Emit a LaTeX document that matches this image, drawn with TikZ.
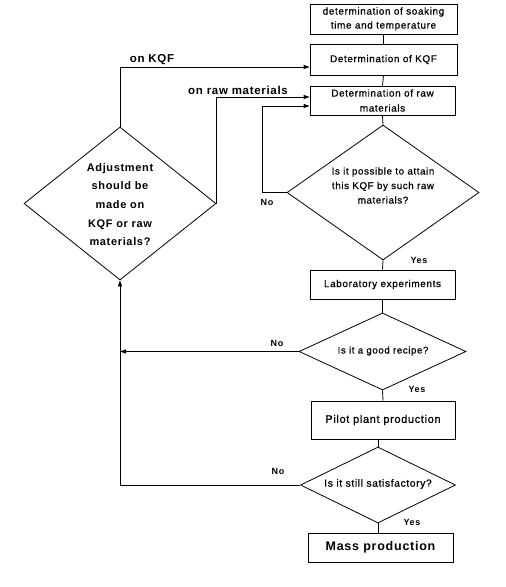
\documentclass[tikz,border=0pt]{standalone}
\usepackage{fontspec}
\setmainfont{Liberation Sans}[LetterSpace=6]
\newfontfamily\medfont{Liberation Sans}[LetterSpace=6, FakeBold=0.7]
\usetikzlibrary{shapes.geometric,arrows.meta}
\begin{document}
\begin{tikzpicture}[x=1pt,y=-1pt,
  line width=0.8pt,
  boxnode/.style={draw, rectangle, inner sep=0pt, align=center},
  dianode/.style={draw, diamond, inner sep=0pt},
  dtext/.style={align=center, inner sep=0pt},
  arr/.style={-{Triangle[length=6pt,width=4pt]}},
  lbl/.style={inner sep=0pt, font=\fontsize{11.5}{13}\selectfont\bfseries},
  yn/.style={inner sep=0pt, font=\fontsize{9}{11}\selectfont\bfseries}
]
\useasboundingbox (0,0) rectangle (506,587);
% boxes
\node[boxnode, minimum width=147pt, minimum height=30pt, font=\medfont\fontsize{10}{14}\selectfont] (b1) at (383.5,19) {determination of soaking\\time and temperature};
\node[boxnode, minimum width=147pt, minimum height=31pt, font=\medfont\fontsize{10}{14}\selectfont] (b2) at (383.5,59.5) {Determination of KQF};
\node[boxnode, minimum width=145pt, minimum height=29pt, font=\medfont\fontsize{10}{15}\selectfont] (b3) at (382.5,100.5) {Determination of raw\\materials};
\node[boxnode, minimum width=145pt, minimum height=29pt, font=\medfont\fontsize{10}{14}\selectfont] (lab) at (382.5,284.5) {Laboratory experiments};
\node[boxnode, minimum width=144pt, minimum height=38pt, font=\medfont\fontsize{11}{14}\selectfont] (pilot) at (383,420) {Pilot plant production};
\node[boxnode, minimum width=145pt, minimum height=29pt, font=\fontsize{12.5}{14}\selectfont\bfseries] (mass) at (380.5,547.5) {Mass production};
% diamonds
\node[dianode, minimum width=192pt, minimum height=153pt] (d1) at (120,203.5) {};
\node[dtext, font=\fontsize{11}{18.7}\selectfont\bfseries] (t1) at (120,204.5) {Adjustment\\should be\\made on\\KQF or raw\\materials?};
\node[dianode, minimum width=192pt, minimum height=135pt] (d2) at (383,192.5) {};
\node[dtext, font=\medfont\fontsize{9.8}{14.5}\selectfont] (t2) at (383,185.5) {Is it possible to attain\\this KQF by such raw\\materials?};
\node[dianode, minimum width=167pt, minimum height=77pt] (d3) at (382.5,351.5) {};
\node[dtext, font=\medfont\fontsize{9.7}{12}\selectfont] (t3) at (383,351) {Is it a good recipe?};
\node[dianode, minimum width=155pt, minimum height=76pt] (d4) at (378,485) {};
\node[dtext, font=\medfont\fontsize{10.3}{12}\selectfont] (t4) at (378,484) {Is it still satisfactory?};
% main column
\draw (b1.south) -- (b2.north);
\draw (b2.south) -- (b3.north);
\draw (b3.south) -- (d2.north);
\draw (d2.south) -- (lab.north);
\draw (lab.south) -- (d3.north);
\draw (d3.south) -- (pilot.north);
\draw (d4.north) -- (d4.north |- pilot.south);
\draw (d4.south) -- (d4.south |- mass.north);
% feedback
\draw[arr] (d1.north) |- ([yshift=-7.5pt]b2.west);
\draw[arr] (d1.east) |- ([yshift=3.5pt]b3.west);
\draw[arr] (d2.west) -- ++(-24,0) |- ([yshift=-5.5pt]b3.west);
\draw[arr] (d3.west) -- (d1.south |- d3.west);
\draw[arr] (d4.west) -| (d1.south);
% labels
\node[lbl] (l1) at (152,60) {on KQF};
\node[lbl] (l2) at (238,90) {on raw materials};
\node[yn] (n2) at (267,202) {No};
\node[yn] (y2) at (419,260) {Yes};
\node[yn] (n3) at (277,343) {No};
\node[yn] (y3) at (417,389) {Yes};
\node[yn] (n4) at (278,471) {No};
\node[yn] (y4) at (412,522) {Yes};
\end{tikzpicture}
\end{document}
